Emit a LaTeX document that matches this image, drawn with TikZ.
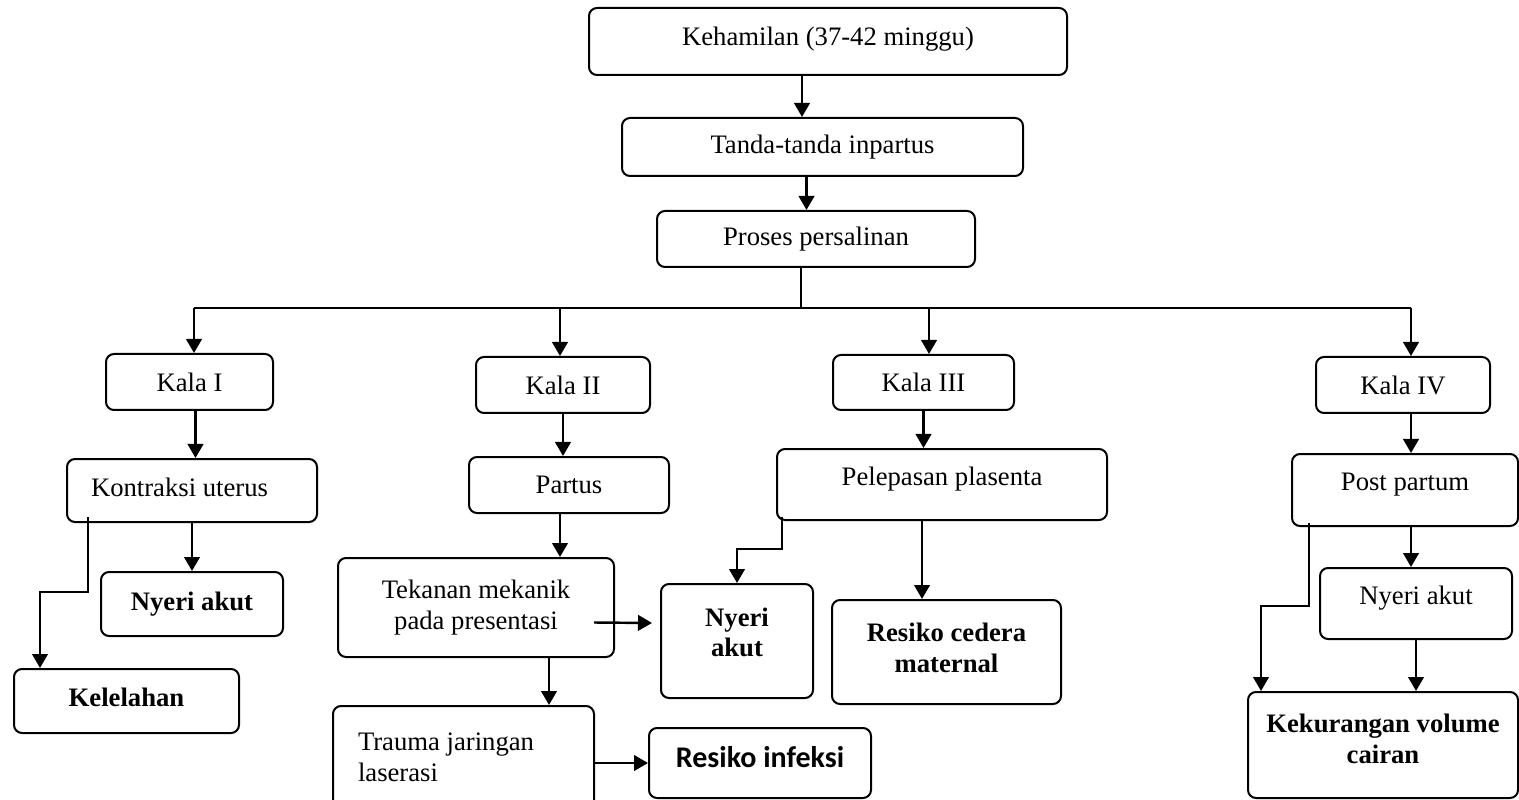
\documentclass[tikz,border=0pt]{standalone}
\usepackage{fontspec}
\setmainfont{Liberation Serif}
\newfontfamily\calibri{Carlito}
\usepackage{tikz}
\usetikzlibrary{arrows.meta}
\newcommand{\lift}[1]{\rule[-#1]{0pt}{#1}}
\tikzset{
  >={Triangle[length=6.3pt,width=7pt]},
  box/.style={draw=black,rounded corners=3.6pt,line width=0.9pt,inner sep=2pt,align=center,font=\fontsize{12}{13.8}\selectfont},
  bbox/.style={box,font=\fontsize{12}{13.8}\selectfont\bfseries},
  sz/.style 2 args={minimum width=#1*0.45pt,minimum height=#2*0.45pt},
  arr/.style={->,draw=black,line width=1.1pt},
  bus/.style={draw=black,line width=0.9pt},
}

\begin{document}
\begin{tikzpicture}[x=0.45pt,y=-0.45pt]
\useasboundingbox (0,0) rectangle (1519,800);
\node[box,sz={478}{67}] (preg) at (828,41.5) {Kehamilan (37-42 minggu)\lift{5pt}};
\node[box,sz={401}{58}] (signs) at (822.5,147) {Tanda-tanda inpartus};
\node[box,sz={318}{56}] (labour) at (816,239) {Proses persalinan};
\node[box,sz={167}{56}] (kala1) at (189.5,382) {Kala I};
\node[box,sz={174}{56}] (kala2) at (563,385) {Kala II};
\node[box,sz={181}{55}] (kala3) at (923.5,382.5) {Kala III};
\node[box,sz={174}{56}] (kala4) at (1403,385) {Kala IV};
\node[box,sz={250}{63},align=flush left,text width=90.9pt,inner xsep=10.8pt] (uterus) at (192,490.5) {Kontraksi uterus\lift{2.5pt}};
\node[bbox,sz={182}{64}] (pain1) at (192,604) {Nyeri akut};
\node[bbox,sz={225}{64}] (fatigue) at (126.5,701) {Kelelahan\lift{3pt}};
\node[box,sz={200}{56}] (partus) at (569,485) {Partus};
\node[box,sz={276}{99}] (press) at (476,607.5) {Tekanan mekanik\\pada presentasi};
\node[bbox,sz={152}{114}] (pain2) at (737,641) {Nyeri\\akut\lift{8pt}};
\node[box,sz={261}{103},align=flush left,text width=94.95pt,inner xsep=11.25pt] (tear) at (463.5,757.5) {Trauma jaringan\\laserasi};
\node[box,sz={222}{70},font=\fontsize{13.5}{15}\selectfont\calibri\bfseries] (infection) at (760,763) {Resiko infeksi\lift{5.5pt}};
\node[box,sz={330}{71}] (placenta) at (942,484.5) {Pelepasan plasenta\lift{7.5pt}};
\node[bbox,sz={229}{104}] (injury) at (946.5,652) {Resiko cedera\\maternal\lift{4pt}};
\node[box,sz={226}{72}] (postp) at (1405,490) {Post partum\lift{7.5pt}};
\node[box,sz={192}{71}] (pain4) at (1416,603.5) {Nyeri akut\lift{7.5pt}};
\node[bbox,sz={270}{106}] (fluid) at (1383,745) {Kekurangan volume\\cairan\lift{5.5pt}};

\coordinate (b1) at (194,308);
\coordinate (b2) at (560,308);
\coordinate (b3) at (929,308);
\coordinate (b4) at (1411,308);

\draw[arr] ([shift={(-26,0)}]preg.south) -- ([shift={(-26,0)}]preg.south |- signs.north);
\draw[arr] ([shift={(-16,0)}]signs.south) -- ([shift={(-16,0)}]signs.south |- labour.north);
\draw[bus] ([shift={(-15,0)}]labour.south) -- ([shift={(-15,0)}]labour.south |- b1);
\draw[bus] (b1) -- (b4);
\draw[arr] (b1) -- (b1 |- kala1.north);
\draw[arr] (b2) -- (b2 |- kala2.north);
\draw[arr] (b3) -- (b3 |- kala3.north);
\draw[arr] (b4) -- (b4 |- kala4.north);

\draw[arr] ([shift={(6,0)}]kala1.south) -- ([shift={(6,0)}]kala1.south |- uterus.north);
\draw[arr] (uterus.south) -- (pain1.north);
\draw[arr] ([shift={(22,-6)}]uterus.south west) -- ++(0,75) -| ([shift={(27,0)}]fatigue.north west);

\draw[arr] (kala2.south) -- (kala2.south |- partus.north);
\draw[arr] ([shift={(-9,0)}]partus.south) -- ([shift={(-9,0)}]partus.south |- press.north);
\draw[arr] ([shift={(-66,0)}]press.south east) -- ([shift={(-66,0)}]press.south east |- tear.north);
\draw[arr] ([shift={(-21,15)}]press.east) -- ([shift={(-8,-18)}]pain2.west);
\draw[arr] (tear.east |- infection.west) -- (infection.west);

\draw[arr] (kala3.south) -- (kala3.south |- placenta.north);
\draw[arr] ([shift={(6,-4)}]placenta.south west) -- ++(0,32) -| (pain2.north);
\draw[arr] ([shift={(-20,0)}]placenta.south) -- ([shift={(-20,0)}]placenta.south |- injury.north);

\draw[arr] ([shift={(8,0)}]kala4.south) -- ([shift={(8,0)}]kala4.south |- postp.north);
\draw[arr] ([shift={(6,0)}]postp.south) -- ([shift={(6,0)}]postp.south |- pain4.north);
\draw[arr] ([shift={(18,-4)}]postp.south west) -- ++(0,83) -| ([shift={(14,0)}]fluid.north west);
\draw[arr] (pain4.south) -- (pain4.south |- fluid.north);
\end{tikzpicture}
\end{document}
